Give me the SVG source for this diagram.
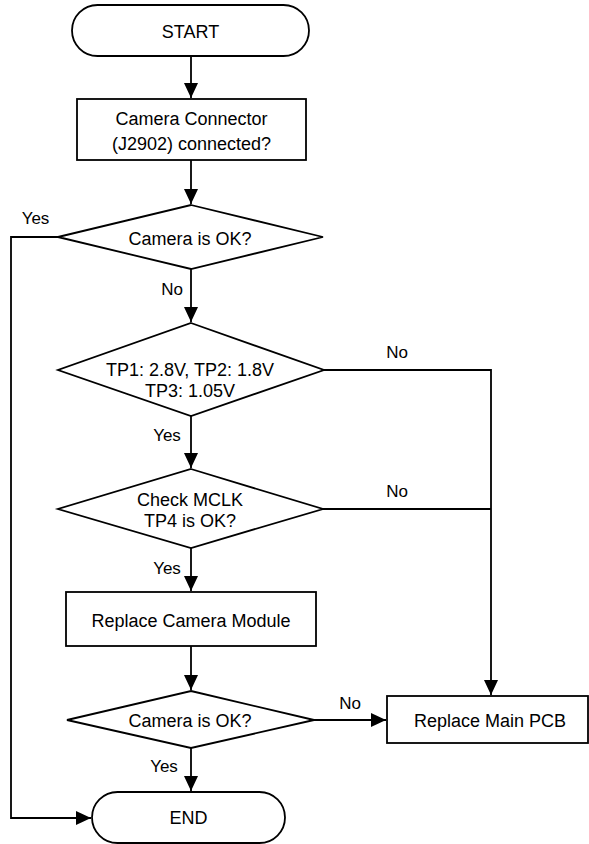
<svg xmlns="http://www.w3.org/2000/svg" width="589" height="844" viewBox="0 0 589 844">
<style>
.n{fill:#fff;stroke:#000;stroke-width:1.8}
.t{font-family:"Liberation Sans",Arial,sans-serif;font-size:18px;fill:#000;text-anchor:middle}
.l{font-family:"Liberation Sans",Arial,sans-serif;font-size:17px;fill:#000;text-anchor:middle}
.c{fill:none;stroke:#000;stroke-width:1.8}
</style>
<defs>
<marker id="ah" markerUnits="userSpaceOnUse" markerWidth="16" markerHeight="15" refX="15" refY="7" orient="auto">
<path d="M0,0 L15,7 L0,14 z" fill="#000"/>
</marker>
</defs>
<rect width="589" height="844" fill="#fff"/>
<g id="connectors">
<path class="c" d="M191,56 V98" marker-end="url(#ah)"/>
<path class="c" d="M191,160 V204" marker-end="url(#ah)"/>
<path class="c" d="M58,237 H11 V818 H91" marker-end="url(#ah)"/>
<path class="c" d="M191,269 V322" marker-end="url(#ah)"/>
<path class="c" d="M324,370 H491 V695" marker-end="url(#ah)"/>
<path class="c" d="M191,416 V468" marker-end="url(#ah)"/>
<path class="c" d="M323,509 H491"/>
<path class="c" d="M191,548 V591" marker-end="url(#ah)"/>
<path class="c" d="M191,646 V690" marker-end="url(#ah)"/>
<path class="c" d="M314,720 H386" marker-end="url(#ah)"/>
<path class="c" d="M191,748 V791" marker-end="url(#ah)"/>
<text class="l" x="35.5" y="224">Yes</text>
<text class="l" x="172" y="295">No</text>
<text class="l" x="397" y="358">No</text>
<text class="l" x="167" y="441">Yes</text>
<text class="l" x="397" y="497">No</text>
<text class="l" x="167" y="574">Yes</text>
<text class="l" x="350" y="709">No</text>
<text class="l" x="164" y="772">Yes</text>
</g>
<g id="start">
<rect class="n" x="72" y="5" width="237" height="51" rx="25.5"/>
<text class="t" x="190.5" y="37.5">START</text>
</g>
<g id="check-connector">
<rect class="n" x="77" y="99" width="229" height="61"/>
<text class="t" x="191.5" y="124.5">Camera Connector</text>
<text class="t" x="191.5" y="149.5">(J2902) connected?</text>
</g>
<g id="camera-ok-1">
<polygon class="n" points="191,205 323,237 191,269 58,237"/>
<text class="t" x="190" y="244.5">Camera is OK?</text>
</g>
<g id="tp-voltages">
<polygon class="n" points="191,323 324,370 191,416 58,370"/>
<text class="t" x="190" y="376">TP1: 2.8V, TP2: 1.8V</text>
<text class="t" x="190" y="397">TP3: 1.05V</text>
</g>
<g id="check-mclk">
<polygon class="n" points="191,469 323,509 191,548 58,509"/>
<text class="t" x="190" y="505.5">Check MCLK</text>
<text class="t" x="190" y="526.5">TP4 is OK?</text>
</g>
<g id="replace-camera">
<rect class="n" x="66" y="592" width="250" height="54"/>
<text class="t" x="191" y="626.5">Replace Camera Module</text>
</g>
<g id="camera-ok-2">
<polygon class="n" points="191,691 314,720 191,748 67,720"/>
<text class="t" x="190" y="726.5">Camera is OK?</text>
</g>
<g id="replace-pcb">
<rect class="n" x="387" y="696" width="201" height="47"/>
<text class="t" x="490" y="726.5">Replace Main PCB</text>
</g>
<g id="end">
<rect class="n" x="92" y="792" width="193" height="51" rx="25.5"/>
<text class="t" x="188.5" y="824">END</text>
</g>
</svg>
